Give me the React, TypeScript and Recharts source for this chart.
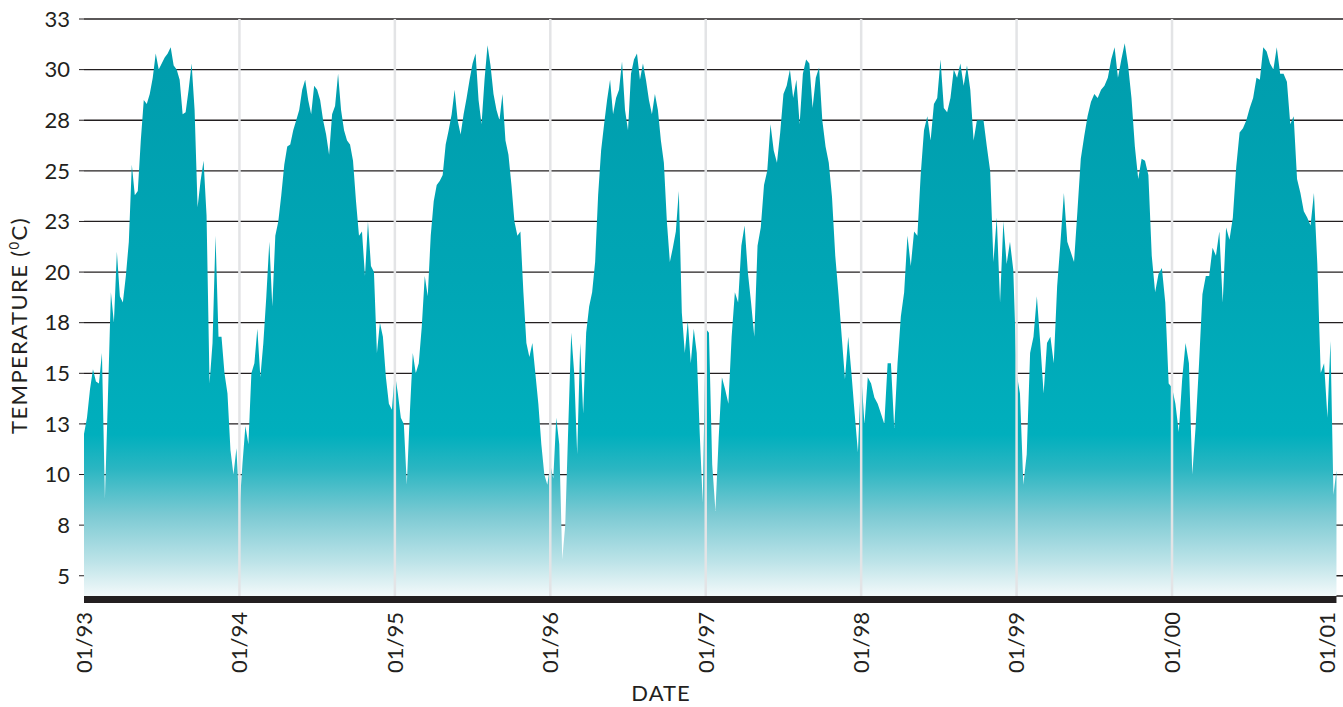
import { AreaChart, Area, XAxis, YAxis, CartesianGrid, ReferenceLine } from 'recharts'

// weekly-ish readings of the daily temperature record, one array per calendar year
const temps1993 = [12.0, 12.8, 14.2, 15.2, 14.6, 14.5, 16.0, 8.8, 13.8, 19.0, 17.5, 21.0, 18.8, 18.5, 19.8, 21.5, 25.3, 23.8, 24.0, 26.5, 28.5, 28.3, 28.8, 29.6, 30.8, 30.0, 30.3, 30.6, 30.8, 31.1, 30.2, 30.0, 29.5, 27.8, 27.9, 29.0, 30.3, 28.0, 23.2, 24.5, 25.5, 22.8, 14.5, 16.5, 21.8, 16.8, 16.8, 15.0, 14.0, 11.2, 10.0, 11.3]
const temps1994 = [8.3, 10.5, 12.4, 11.5, 15.0, 15.5, 17.2, 14.8, 16.5, 18.8, 21.5, 18.3, 21.8, 22.5, 23.8, 25.3, 26.2, 26.3, 27.0, 27.5, 28.0, 29.0, 29.5, 28.5, 27.8, 29.2, 29.0, 28.5, 27.5, 26.8, 25.8, 27.8, 28.2, 29.8, 28.0, 27.0, 26.5, 26.3, 25.5, 23.5, 21.8, 22.0, 19.8, 22.5, 20.3, 20.0, 16.0, 17.5, 16.8, 14.8, 13.5, 13.2]
const temps1995 = [15.0, 14.0, 12.8, 12.5, 9.5, 13.0, 16.0, 15.0, 15.5, 17.3, 19.8, 18.8, 21.8, 23.5, 24.3, 24.5, 24.8, 26.3, 27.0, 27.8, 29.0, 27.5, 26.8, 27.8, 28.6, 29.5, 30.3, 30.8, 28.5, 27.3, 29.5, 31.2, 30.2, 28.8, 28.0, 27.5, 28.8, 26.5, 25.8, 24.3, 22.5, 21.8, 22.0, 19.0, 16.5, 15.8, 16.5, 15.0, 13.5, 11.5, 10.0, 9.5]
const temps1996 = [10.5, 9.8, 12.8, 11.5, 5.8, 7.5, 12.3, 17.0, 15.0, 11.0, 16.5, 13.0, 17.0, 18.3, 19.0, 20.5, 23.8, 26.0, 27.3, 28.5, 29.5, 27.8, 28.6, 29.0, 30.4, 28.0, 27.0, 29.8, 30.5, 30.8, 29.5, 30.3, 29.5, 28.5, 27.8, 28.8, 28.0, 26.5, 25.4, 22.5, 20.5, 21.2, 22.0, 24.0, 18.0, 16.0, 17.6, 15.5, 17.2, 16.0, 12.0, 8.6]
const temps1997 = [17.2, 17.0, 10.5, 8.2, 11.8, 14.8, 14.2, 13.5, 16.8, 19.0, 18.5, 21.3, 22.3, 20.0, 18.5, 16.8, 21.3, 22.2, 24.3, 25.0, 27.3, 26.0, 25.4, 26.9, 28.8, 29.2, 30.0, 28.6, 29.5, 27.3, 29.8, 30.5, 30.3, 28.1, 29.6, 30.1, 27.5, 26.2, 25.4, 23.7, 20.8, 18.9, 16.8, 14.7, 16.8, 15.0, 13.0, 11.1]
const temps1998 = [15.0, 12.5, 14.8, 14.5, 13.8, 13.5, 13.0, 12.5, 15.5, 15.5, 12.3, 15.5, 17.8, 19.0, 21.8, 20.3, 22.0, 21.8, 24.8, 27.0, 27.7, 26.5, 28.3, 28.6, 30.5, 28.1, 27.9, 28.6, 30.0, 29.6, 30.3, 29.2, 30.2, 29.0, 26.5, 27.5, 27.5, 27.5, 26.2, 25.0, 20.5, 22.7, 18.5, 22.5, 20.4, 21.5, 20.1]
const temps1999 = [15.0, 14.0, 9.5, 11.0, 16.0, 16.8, 18.8, 16.5, 14.0, 16.5, 16.8, 15.5, 19.3, 21.5, 23.9, 21.5, 21.0, 20.5, 23.0, 25.6, 26.7, 27.7, 28.4, 28.8, 28.6, 29.0, 29.2, 29.6, 30.5, 31.1, 29.6, 30.5, 31.3, 30.2, 28.6, 26.2, 24.6, 25.6, 25.5, 24.8, 20.8, 19.0, 19.9, 20.2, 18.5, 14.5]
const temps2000 = [14.3, 13.5, 12.1, 14.7, 16.5, 15.5, 10.0, 12.4, 15.5, 18.9, 19.8, 19.8, 21.2, 20.8, 22.0, 18.5, 22.2, 21.6, 22.7, 25.2, 26.9, 27.1, 27.5, 28.1, 28.6, 29.6, 29.5, 31.1, 30.9, 30.3, 30.0, 31.1, 29.8, 29.8, 29.4, 27.3, 27.7, 24.6, 23.9, 23.0, 22.7, 22.3, 23.9, 20.4, 15.0, 15.5]
// the record runs a few weeks into 2001
const temps2001 = [12.8, 16.6, 9.0, 10.2]
const recordEnd = 2001.058

const yearStarts = [1993, 1994, 1995, 1996, 1997, 1998, 1999, 2000]
const yearly = [temps1993, temps1994, temps1995, temps1996, temps1997, temps1998, temps1999, temps2000]

const xTicks = [1993, 1994, 1995, 1996, 1997, 1998, 1999, 2000, 2001]
const yearLines = [1994, 1995, 1996, 1997, 1998, 1999, 2000]
const yTicks = [5, 7.5, 10, 12.5, 15, 17.5, 20, 22.5, 25, 27.5, 30, 32.5]

const INK = '#231f20'
const FONT = "Lato, 'DejaVu Sans', sans-serif"

function buildSeries() {
  const pts: { t: number; temp: number }[] = []
  yearly.forEach((vals, k) => {
    vals.forEach((v, i) => pts.push({ t: yearStarts[k] + i / vals.length, temp: v }))
  })
  temps2001.forEach((v, i) => pts.push({ t: 2001 + (i / (temps2001.length - 1)) * (recordEnd - 2001), temp: v }))
  return pts
}

const series = buildSeries()

function DateTick({ x, y, payload }: { x?: number; y?: number; payload?: { value: number } }) {
  const label = '01/' + String(payload?.value ?? '').slice(2)
  return (
    <text
      x={x}
      y={y}
      transform={`rotate(-90 ${x} ${y})`}
      textAnchor="end"
      dy="0.36em"
      fontSize={22}
      fontFamily={FONT}
      fill={INK}
    >
      {label}
    </text>
  )
}

function TempTitle({ viewBox }: { viewBox?: { x: number; y: number; width: number; height: number } }) {
  if (!viewBox) return null
  const x = viewBox.x + 27
  const y = viewBox.y + viewBox.height / 2 + 18
  return (
    <text
      x={x}
      y={y}
      transform={`rotate(-90 ${x} ${y})`}
      textAnchor="middle"
      fontSize={22}
      letterSpacing={1.4}
      fontFamily={FONT}
      fill={INK}
    >
      <tspan>TEMPERATURE (</tspan>
      <tspan fontSize={13} dy={-8}>0</tspan>
      <tspan dy={8}>C)</tspan>
    </text>
  )
}

function DateTitle({ viewBox }: { viewBox?: { x: number; y: number; width: number; height: number } }) {
  if (!viewBox) return null
  return (
    <text
      x={viewBox.x + 577}
      y={viewBox.y + 105}
      textAnchor="middle"
      fontSize={22}
      letterSpacing={1}
      fontFamily={FONT}
      fill={INK}
    >
      DATE
    </text>
  )
}

export default function App() {
  return (
    <div style={{ position: 'absolute', left: 0, top: 0, background: '#fff' }}>
      <AreaChart width={1343} height={707} data={series} margin={{ top: 19, right: 0, bottom: 0, left: 0 }}>
        <defs>
          <linearGradient id="tempFade" gradientUnits="userSpaceOnUse" x1="0" y1="19" x2="0" y2="596">
            <stop offset="0" stopColor="#009cac" />
            <stop offset="0.45" stopColor="#00a6b5" />
            <stop offset="0.72" stopColor="#00afbd" />
            <stop offset="0.78" stopColor="#2bb6c2" />
            <stop offset="0.86" stopColor="#7ccad3" />
            <stop offset="0.94" stopColor="#bce3e8" />
            <stop offset="1" stopColor="#f3f9fa" />
          </linearGradient>
        </defs>

        <CartesianGrid vertical={false} stroke={INK} strokeWidth={1.3} />

        <XAxis
          dataKey="t"
          type="number"
          domain={[1993, 2001.1]}
          ticks={xTicks}
          axisLine={false}
          tickLine={false}
          tickSize={6}
          tickMargin={10}
          tick={<DateTick />}
          height={111}
          interval={0}
          label={<DateTitle />}
        />
        <YAxis
          type="number"
          domain={[4, 32.5]}
          ticks={yTicks}
          tickFormatter={(v: number) => String(Math.round(v))}
          axisLine={false}
          tickLine={{ stroke: INK, strokeWidth: 1 }}
          tickSize={5}
          tickMargin={9}
          tick={{ fontSize: 22, fontFamily: FONT, fill: INK }}
          width={84}
          interval={0}
          label={<TempTitle />}
        />

        <Area
          type="linear"
          dataKey="temp"
          stroke="none"
          fill="url(#tempFade)"
          fillOpacity={1}
          isAnimationActive={false}
        />

        {yearLines.map((yr) => (
          <ReferenceLine key={yr} x={yr} stroke="#e3e4e6" strokeWidth={2.5} />
        ))}

        <ReferenceLine
          segment={[{ x: 1993, y: 3.83 }, { x: recordEnd, y: 3.83 }]}
          stroke={INK}
          strokeWidth={7}
          ifOverflow="visible"
        />
      </AreaChart>
    </div>
  )
}
